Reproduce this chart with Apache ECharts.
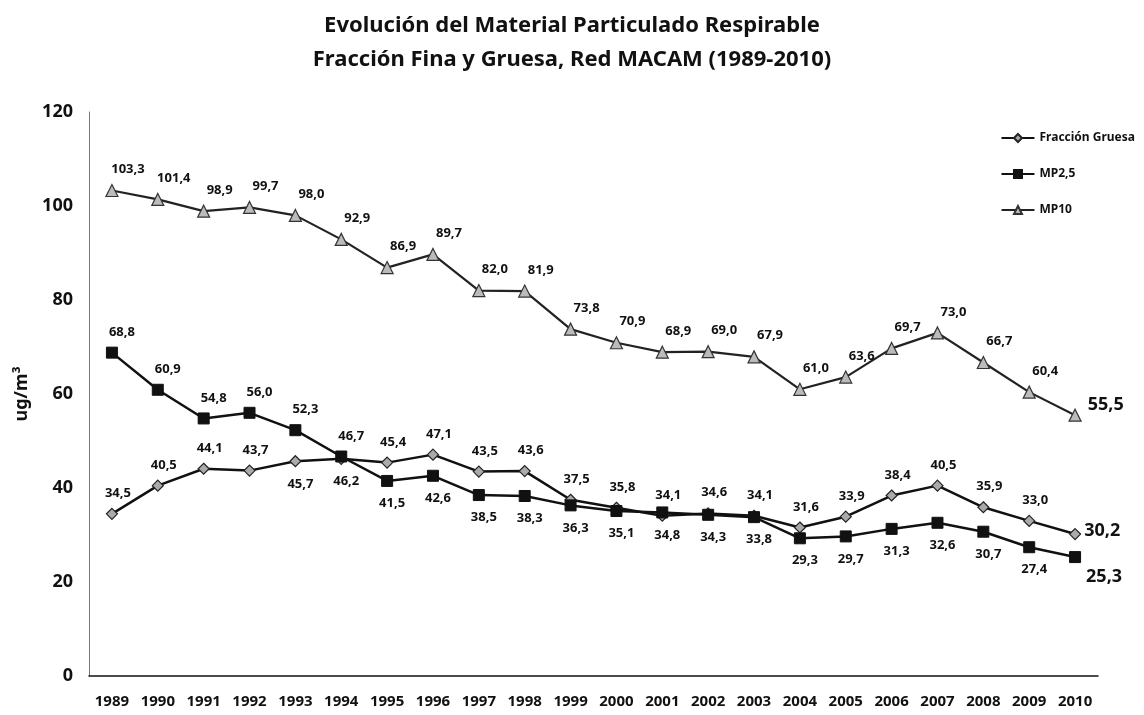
<!DOCTYPE html>
<html>
<head>
<meta charset="utf-8">
<script src="https://cdn.jsdelivr.net/npm/echarts@6/dist/echarts.min.js"></script>
<style>
  html, body { margin: 0; padding: 0; background: #fff; }
  #chart { width: 1144px; height: 715px; }
</style>
</head>
<body>
<div id="chart"></div>
<script>
// años de la red MACAM
var years = ['1989', '1990', '1991', '1992', '1993', '1994', '1995', '1996', '1997', '1998', '1999',
  '2000', '2001', '2002', '2003', '2004', '2005', '2006', '2007', '2008', '2009', '2010']

var fraccionGruesa = [34.5, 40.5, 44.1, 43.7, 45.7, 46.2, 45.4, 47.1, 43.5, 43.6, 37.5,
  35.8, 34.1, 34.6, 34.1, 31.6, 33.9, 38.4, 40.5, 35.9, 33.0, 30.2]
var mp25 = [68.8, 60.9, 54.8, 56.0, 52.3, 46.7, 41.5, 42.6, 38.5, 38.3, 36.3,
  35.1, 34.8, 34.3, 33.8, 29.3, 29.7, 31.3, 32.6, 30.7, 27.4, 25.3]
var mp10 = [103.3, 101.4, 98.9, 99.7, 98.0, 92.9, 86.9, 89.7, 82.0, 81.9, 73.8,
  70.9, 68.9, 69.0, 67.9, 61.0, 63.6, 69.7, 73.0, 66.7, 60.4, 55.5]

var yTicks = [0, 20, 40, 60, 80, 100, 120]

var FONT = "'Noto Sans', sans-serif"

function fmt (v) {
  return v.toFixed(1).replace('.', ',')
}

// arma los puntos con etiqueta arriba / abajo, el último va a la derecha más grande
function buildData (values, below, labelDx, lastOffset) {
  var res = []
  for (var i = 0; i < values.length; i++) {
    var last = i === values.length - 1
    var label
    if (last) {
      label = { position: 'right', distance: 3, offset: lastOffset, fontSize: 18 }
    } else if (below.indexOf(i) !== -1) {
      label = { position: 'bottom', distance: 10, offset: [5, 0] }
    } else {
      label = { position: 'top', distance: 8, offset: [labelDx, 0] }
    }
    res.push({ value: values[i], label: label })
  }
  return res
}

var gruesaBelow = [4, 5]
var mp25Below = [6, 7, 8, 9, 10, 11, 12, 13, 14, 15, 16, 17, 18, 19, 20]
var mp10Below = []

var baseLabel = {
  show: true,
  color: '#111',
  fontFamily: FONT,
  fontWeight: 'bold',
  fontSize: 13,
  formatter: function (p) { return fmt(p.value) }
}

var chart = echarts.init(document.getElementById('chart'))

var option = {
  animation: false,
  backgroundColor: '#fff',
  title: {
    text: 'Evolución del Material Particulado Respirable\nFracción Fina y Gruesa, Red MACAM (1989-2010)',
    left: 'center',
    top: 4,
    textStyle: {
      fontFamily: FONT,
      fontWeight: 'bold',
      fontSize: 22,
      lineHeight: 34,
      color: '#111'
    }
  },
  legend: {
    orient: 'vertical',
    right: 4,
    top: 127,
    itemWidth: 33,
    itemHeight: 10,
    itemGap: 24,
    textStyle: { fontFamily: FONT, fontWeight: 'bold', fontSize: 12, color: '#111' },
    data: ['Fracción Gruesa', 'MP2,5', 'MP10']
  },
  grid: { left: 89, right: 46, top: 112, bottom: 39 },
  xAxis: {
    type: 'category',
    data: years,
    boundaryGap: true,
    axisLine: { lineStyle: { color: '#111', width: 1.5 } },
    axisTick: { show: false },
    axisLabel: {
      color: '#111', fontFamily: FONT, fontWeight: 'bold', fontSize: 15, margin: 18, interval: 0
    }
  },
  yAxis: {
    type: 'value',
    min: yTicks[0],
    max: yTicks[yTicks.length - 1],
    interval: 20,
    name: 'ug/m³',
    nameLocation: 'middle',
    nameGap: 58,
    nameRotate: 90,
    nameTextStyle: { fontFamily: FONT, fontWeight: 'bold', fontSize: 18, color: '#111' },
    axisLine: { show: true, lineStyle: { color: '#777', width: 1 } },
    axisTick: { show: false },
    splitLine: { show: false },
    axisLabel: { color: '#111', fontFamily: FONT, fontWeight: 'bold', fontSize: 18, margin: 16 }
  },
  series: [
    {
      name: 'Fracción Gruesa',
      type: 'line',
      data: buildData(fraccionGruesa, gruesaBelow, 6, [0, -3]),
      symbol: 'diamond',
      symbolSize: 11,
      lineStyle: { color: '#111', width: 2.5 },
      itemStyle: { color: '#aaa', borderColor: '#222', borderWidth: 1.2 },
      label: baseLabel,
      z: 3
    },
    {
      name: 'MP2,5',
      type: 'line',
      data: buildData(mp25, mp25Below, 10, [2, 20]),
      symbol: 'rect',
      symbolSize: 11,
      lineStyle: { color: '#111', width: 2.5 },
      itemStyle: { color: '#111', borderColor: '#111', borderWidth: 1 },
      label: baseLabel,
      z: 4
    },
    {
      name: 'MP10',
      type: 'line',
      data: buildData(mp10, mp10Below, 16, [3, -10]),
      symbol: 'triangle',
      symbolSize: 12,
      lineStyle: { color: '#222', width: 2.2 },
      itemStyle: { color: '#bbb', borderColor: '#333', borderWidth: 1.2 },
      label: baseLabel,
      z: 3
    }
  ]
}

chart.setOption(option)
window.addEventListener('resize', function () {
  chart.resize()
})
</script>
</body>
</html>
